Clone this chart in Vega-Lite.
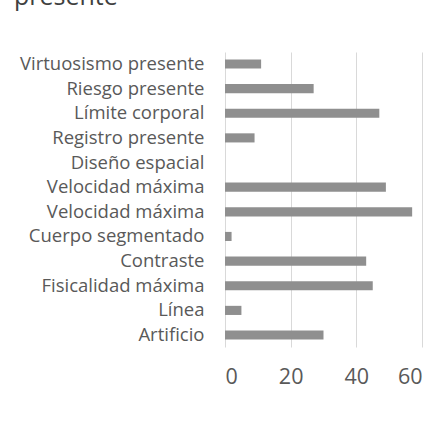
{
  "$schema": "https://vega.github.io/schema/vega-lite/v6.json",
  "width": 197,
  "height": 295,
  "autosize": {"type": "none"},
  "padding": {"left": 225, "top": 52, "right": 19, "bottom": 76},
  "background": "white",
  "title": {"text": "presente", "anchor": "start", "frame": "group", "dx": -211, "offset": 22, "baseline": "alphabetic", "fontSize": 25, "font": "Open Sans", "fontWeight": "normal", "color": "#404040"},
  "data": {"values": [
    {"categoria": "Virtuosismo presente", "valor": 11},
    {"categoria": "Riesgo presente", "valor": 27},
    {"categoria": "Límite corporal", "valor": 47},
    {"categoria": "Registro presente", "valor": 9},
    {"categoria": "Diseño espacial", "valor": 0},
    {"categoria": "Velocidad máxima", "valor": 49},
    {"categoria": "Velocidad máxima ", "valor": 57},
    {"categoria": "Cuerpo segmentado", "valor": 2},
    {"categoria": "Contraste", "valor": 43},
    {"categoria": "Fisicalidad máxima", "valor": 45},
    {"categoria": "Línea", "valor": 5},
    {"categoria": "Artificio", "valor": 30}
  ]},
  "mark": {"type": "bar", "color": "#8f8f8f"},
  "encoding": {
    "y": {"field": "categoria", "type": "nominal", "sort": null,
      "scale": {"paddingInner": 0.63, "paddingOuter": 0.3},
      "axis": {"title": null, "domain": false, "ticks": false, "labelPadding": 21, "labelLimit": 230, "labelFontSize": 18.5, "labelFont": "Open Sans", "labelColor": "#595959"}},
    "x": {"field": "valor", "type": "quantitative",
      "scale": {"domain": [0, 60], "nice": false},
      "axis": {"title": null, "values": [0, 20, 40, 60], "domain": false, "ticks": false, "gridColor": "#d9d9d9", "gridWidth": 1, "labelPadding": 19, "labelFontSize": 21.5, "labelFont": "Open Sans", "labelColor": "#595959"}}
  },
  "config": {"view": {"stroke": null}}
}
